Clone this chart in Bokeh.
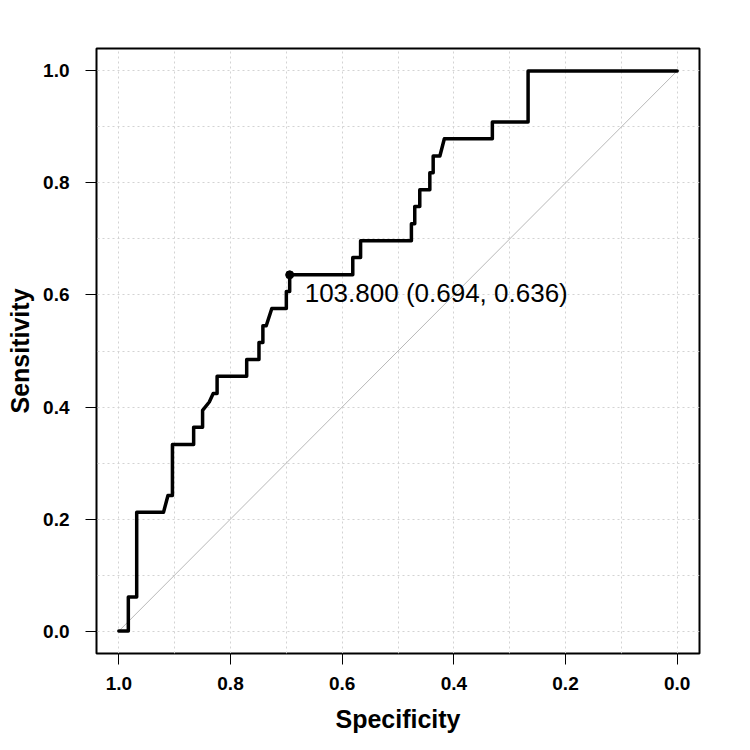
from bokeh.plotting import figure
from bokeh.models import Range1d, FixedTicker, PrintfTickFormatter, ColumnDataSource
from bokeh.core.properties import value
from bokeh.embed import file_html
from bokeh.resources import INLINE

# ROC curve vertices (specificity, sensitivity), walked from (1, 0) to (0, 1)
specificity = [1.000, 0.983, 0.983, 0.968, 0.968, 0.920, 0.912, 0.904, 0.904,
               0.866, 0.866, 0.850, 0.850, 0.838, 0.831, 0.824, 0.824,
               0.771, 0.771, 0.749, 0.749, 0.742, 0.742, 0.736, 0.726,
               0.700, 0.700, 0.694, 0.694, 0.581, 0.581, 0.567, 0.567,
               0.476, 0.476, 0.470, 0.470, 0.461, 0.461, 0.443, 0.443,
               0.437, 0.437, 0.425, 0.417, 0.331, 0.331, 0.267, 0.267, 0.000]
sensitivity = [0.000, 0.000, 0.061, 0.061, 0.212, 0.212, 0.242, 0.242, 0.333,
               0.333, 0.364, 0.364, 0.394, 0.409, 0.424, 0.424, 0.455,
               0.455, 0.485, 0.485, 0.515, 0.515, 0.545, 0.545, 0.576,
               0.576, 0.606, 0.606, 0.636, 0.636, 0.667, 0.667, 0.697,
               0.697, 0.727, 0.727, 0.758, 0.758, 0.788, 0.788, 0.818,
               0.818, 0.848, 0.848, 0.879, 0.879, 0.909, 0.909, 1.000, 1.000]

# chance line
chance_spec = [1.0, 0.0]
chance_sens = [0.0, 1.0]

# best threshold
best_threshold = 103.8
best_spec = 0.694
best_sens = 0.636

axis_ticks = [0.0, 0.2, 0.4, 0.6, 0.8, 1.0]
grid_ticks = [0.0, 0.1, 0.2, 0.3, 0.4, 0.5, 0.6, 0.7, 0.8, 0.9, 1.0]

FONT = "Liberation Sans"

p = figure(width=750, height=750, output_backend="svg", toolbar_location=None,
           x_range=Range1d(1.04, -0.04), y_range=Range1d(-0.04, 1.04),
           min_border_left=96, min_border_right=51,
           min_border_top=48, min_border_bottom=97)

p.background_fill_color = "white"
p.border_fill_color = "white"
p.outline_line_color = "black"
p.outline_line_width = 2
p.outline_line_alpha = 1.0

for g in (p.xgrid, p.ygrid):
    g.ticker = FixedTicker(ticks=grid_ticks)
    g.grid_line_color = "#d3d3d3"
    g.grid_line_dash = "2 3"
    g.grid_line_width = 1

for ax in (p.xaxis, p.yaxis):
    ax.ticker = FixedTicker(ticks=axis_ticks)
    ax.formatter = PrintfTickFormatter(format="%.1f")
    ax.axis_line_color = None
    ax.major_tick_in = 0
    ax.major_tick_out = 11
    ax.major_tick_line_color = "black"
    ax.major_tick_line_width = 1
    ax.minor_tick_line_color = None
    ax.major_label_text_font = FONT
    ax.major_label_text_font_style = "bold"
    ax.major_label_text_font_size = "19px"
    ax.major_label_text_color = "black"
    ax.axis_label_text_font = FONT
    ax.axis_label_text_font_style = "bold"
    ax.axis_label_text_font_size = "25px"
    ax.axis_label_text_color = "black"

p.xaxis.axis_label = "Specificity"
p.yaxis.axis_label = "Sensitivity"
p.xaxis.major_label_standoff = 12
p.xaxis.axis_label_standoff = 12
p.yaxis.major_label_standoff = 16
p.yaxis.axis_label_standoff = 6

p.line(chance_spec, chance_sens, line_color="#b8b8b8", line_width=1)

curve = ColumnDataSource(data=dict(spec=specificity, sens=sensitivity))
p.line("spec", "sens", source=curve, line_color="black", line_width=3.5,
       line_join="round", line_cap="round")

best = ColumnDataSource(data=dict(
    spec=[best_spec], sens=[best_sens],
    label=[f"{best_threshold:.3f} ({best_spec:.3f}, {best_sens:.3f})"]))
p.scatter("spec", "sens", source=best, size=8, color="black")
p.text("spec", "sens", text="label", source=best, x_offset=15, y_offset=18,
       text_baseline="alphabetic", text_align="left",
       text_font=value(FONT), text_font_size="26px", text_color="black")

open("out.html", "w").write(file_html(p, INLINE))
